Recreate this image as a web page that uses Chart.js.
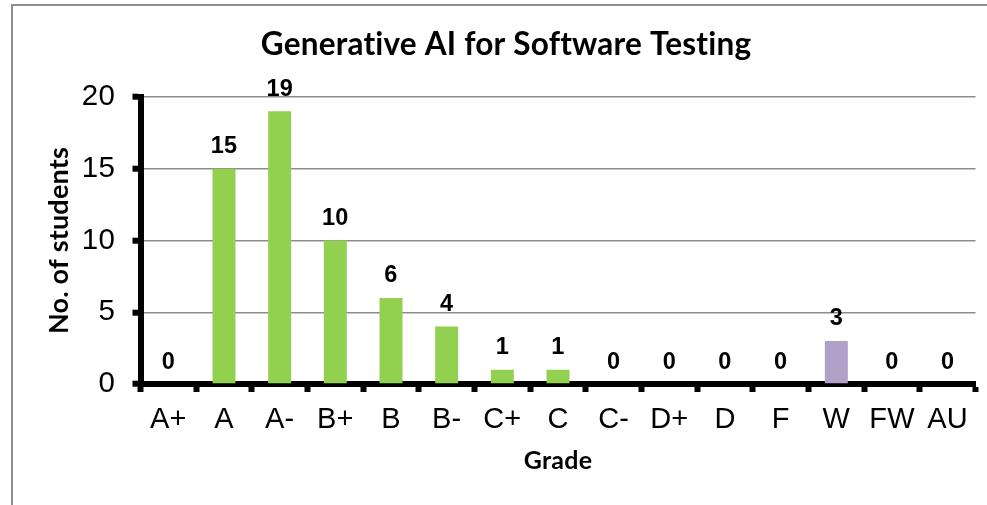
<!DOCTYPE html>
<html>
<head>
<meta charset="utf-8">
<script src="https://cdn.jsdelivr.net/npm/chart.js@4.4.1/dist/chart.umd.min.js"></script>
<style>
  html, body { margin: 0; padding: 0; background: #ffffff; overflow: hidden; width: 987px; height: 505px; }
  #frame { position: absolute; left: 11px; top: 4px; width: 1100px; height: 600px; border: 2px solid #8e8e8e; box-sizing: border-box; }
  #c { position: absolute; left: 13px; top: 6px; }
</style>
</head>
<body>
<div id="frame"></div>
<canvas id="c" width="986" height="499"></canvas>
<script>
const chartTitle = 'Generative AI for Software Testing';
const xTitle = 'Grade';
const yTitle = 'No. of students';
const grades = ['A+', 'A', 'A-', 'B+', 'B', 'B-', 'C+', 'C', 'C-', 'D+', 'D', 'F', 'W', 'FW', 'AU'];
const students = [0, 15, 19, 10, 6, 4, 1, 1, 0, 0, 0, 0, 3, 0, 0];
const yMin = 0;
const yMax = 20;
const yStep = 5;
const highlightGrade = 'W';

const GREEN = '#92D050';
const PURPLE = '#B1A0C7';

const noLigatures = {
  id: 'noLigatures',
  beforeDraw(chart) {
    if ('letterSpacing' in chart.ctx) chart.ctx.letterSpacing = '0.2px';
  }
};

const valueLabels = {
  id: 'valueLabels',
  afterDatasetsDraw(chart) {
    const ctx = chart.ctx;
    const meta = chart.getDatasetMeta(0);
    const data = chart.data.datasets[0].data;
    ctx.save();
    ctx.font = 'bold 23.5px "Liberation Sans", Arial, sans-serif';
    ctx.fillStyle = '#000000';
    ctx.textAlign = 'center';
    ctx.textBaseline = 'alphabetic';
    meta.data.forEach((bar, i) => {
      ctx.fillText(String(data[i]), bar.x, bar.y - 15.5);
    });
    ctx.restore();
  }
};

new Chart(document.getElementById('c'), {
  type: 'bar',
  data: {
    labels: grades,
    datasets: [{
      data: students,
      backgroundColor: grades.map(g => g === highlightGrade ? PURPLE : GREEN),
      borderWidth: 0,
      barPercentage: 0.413,
      categoryPercentage: 1.0
    }]
  },
  options: {
    responsive: false,
    devicePixelRatio: 1,
    animation: false,
    layout: { padding: { left: 23.5, right: 23.5, top: 0, bottom: 0 } },
    plugins: {
      legend: { display: false },
      tooltip: { enabled: false },
      title: {
        display: true,
        text: chartTitle,
        color: '#000000',
        font: { family: 'Lato', weight: 'bold', size: 31.5, lineHeight: 1.2 },
        padding: { top: 19.6, bottom: 33.6 }
      }
    },
    scales: {
      x: {
        grid: {
          display: true,
          offset: true,
          drawOnChartArea: false,
          drawTicks: true,
          tickLength: 8,
          tickWidth: 6,
          tickColor: '#000000'
        },
        border: { display: true, color: '#000000', width: 6 },
        ticks: {
          autoSkip: false,
          maxRotation: 0,
          minRotation: 0,
          padding: 11,
          color: '#000000',
          font: { family: '"Liberation Sans", Arial, sans-serif', size: 29, lineHeight: 1.2 }
        },
        title: {
          display: true,
          text: xTitle,
          color: '#000000',
          font: { family: 'Lato', weight: 'bold', size: 25, lineHeight: 1.2 },
          padding: { top: 0, bottom: 29.5 }
        },
        afterFit(scale) { scale.height = 121; }
      },
      y: {
        min: yMin,
        max: yMax,
        ticks: {
          stepSize: yStep,
          padding: 17.5,
          color: '#000000',
          font: { family: '"Liberation Sans", Arial, sans-serif', size: 29.5, lineHeight: 1.2 }
        },
        grid: {
          color: '#8c8c8c',
          lineWidth: 1.4,
          drawTicks: true,
          tickLength: 8,
          tickWidth: 6,
          tickColor: '#000000'
        },
        border: { display: true, color: '#000000', width: 6 },
        title: {
          display: true,
          text: yTitle,
          color: '#000000',
          font: { family: 'Lato', weight: 'bold', size: 27, lineHeight: 1.2 },
          padding: { top: 6.8, bottom: 0 }
        },
        afterFit(scale) { scale.width = 104; }
      }
    }
  },
  plugins: [noLigatures, valueLabels]
});
</script>
</body>
</html>
